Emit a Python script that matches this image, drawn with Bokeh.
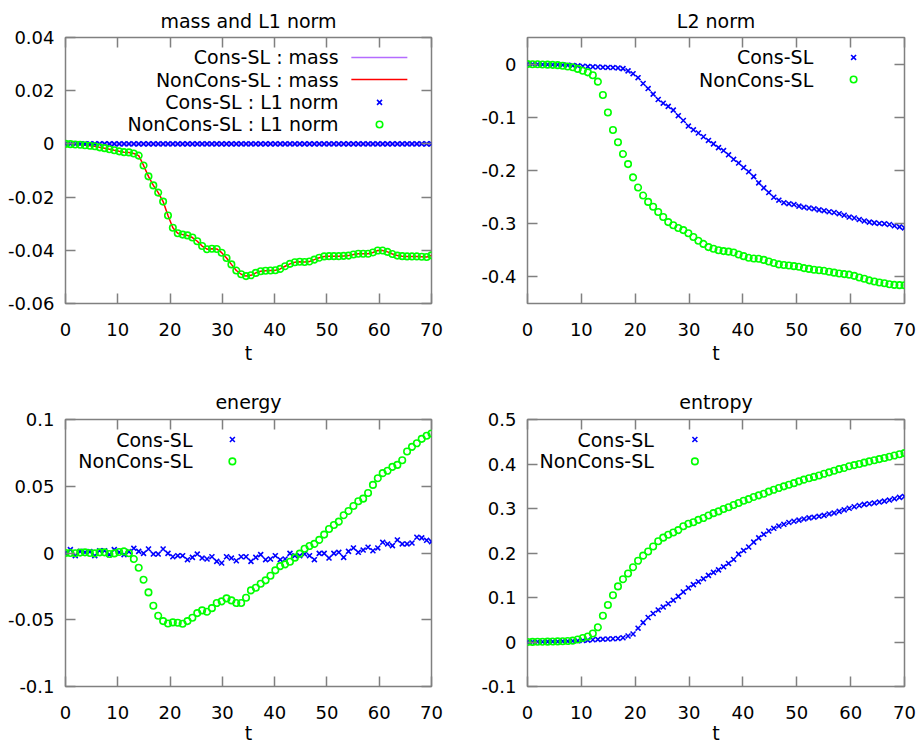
from bokeh.plotting import figure
from bokeh.models import Range1d, FixedTicker, LinearAxis
from bokeh.layouts import column, row
from bokeh.embed import file_html
from bokeh.resources import INLINE
from bokeh.core.properties import value

# ---------------- data ----------------
t = [0, 0.93, 1.87, 2.8, 3.73, 4.67, 5.6, 6.53, 7.47, 8.4,
     9.33, 10.27, 11.2, 12.13, 13.07, 14, 14.93, 15.87, 16.8, 17.73,
     18.67, 19.6, 20.53, 21.47, 22.4, 23.33, 24.27, 25.2, 26.13, 27.07,
     28, 28.93, 29.87, 30.8, 31.73, 32.67, 33.6, 34.53, 35.47, 36.4,
     37.33, 38.27, 39.2, 40.13, 41.07, 42, 42.93, 43.87, 44.8, 45.73,
     46.67, 47.6, 48.53, 49.47, 50.4, 51.33, 52.27, 53.2, 54.13, 55.07,
     56, 56.93, 57.87, 58.8, 59.73, 60.67, 61.6, 62.53, 63.47, 64.4,
     65.33, 66.27, 67.2, 68.13, 69.07, 70]

cons_mass = [0, 0, 0, 0, 0, 0, 0, 0, 0, 0,
             0, 0, 0, 0, 0, 0, 0, 0, 0, 0,
             0, 0, 0, 0, 0, 0, 0, 0, 0, 0,
             0, 0, 0, 0, 0, 0, 0, 0, 0, 0,
             0, 0, 0, 0, 0, 0, 0, 0, 0, 0,
             0, 0, 0, 0, 0, 0, 0, 0, 0, 0,
             0, 0, 0, 0, 0, 0, 0, 0, 0, 0,
             0, 0, 0, 0, 0, 0]

noncons_mass = [0, -0.0001, -0.0002, -0.0003, -0.0005, -0.0007, -0.0009, -0.0013, -0.0016, -0.0020,
                -0.0024, -0.0028, -0.0031, -0.0032, -0.0036, -0.0044, -0.0081, -0.0122, -0.0156, -0.0183,
                -0.0217, -0.0269, -0.0315, -0.0336, -0.0341, -0.0344, -0.0352, -0.0366, -0.0384, -0.0396,
                -0.0394, -0.0395, -0.0409, -0.0429, -0.0453, -0.0476, -0.0490, -0.0497, -0.0494, -0.0485,
                -0.0479, -0.0477, -0.0476, -0.0475, -0.0470, -0.0460, -0.0451, -0.0445, -0.0443, -0.0444,
                -0.0442, -0.0435, -0.0428, -0.0423, -0.0422, -0.0422, -0.0422, -0.0421, -0.0420, -0.0416,
                -0.0413, -0.0413, -0.0413, -0.0408, -0.0401, -0.0401, -0.0406, -0.0414, -0.0420, -0.0422,
                -0.0423, -0.0423, -0.0423, -0.0424, -0.0425, -0.0419]

cons_l1 = [0, 0, 0, 0, 0, 0, 0, 0, 0, 0,
           0, 0, 0, 0, 0, 0, 0, 0, 0, 0,
           0, 0, 0, 0, 0, 0, 0, 0, 0, 0,
           0, 0, 0, 0, 0, 0, 0, 0, 0, 0,
           0, 0, 0, 0, 0, 0, 0, 0, 0, 0,
           0, 0, 0, 0, 0, 0, 0, 0, 0, 0,
           0, 0, 0, 0, 0, 0, 0, 0, 0, 0,
           0, 0, 0, 0, 0, 0]

noncons_l1 = [0, -0.0001, -0.0002, -0.0003, -0.0005, -0.0007, -0.0009, -0.0013, -0.0016, -0.0020,
              -0.0024, -0.0028, -0.0031, -0.0032, -0.0036, -0.0044, -0.0081, -0.0122, -0.0156, -0.0183,
              -0.0217, -0.0269, -0.0315, -0.0336, -0.0341, -0.0344, -0.0352, -0.0366, -0.0384, -0.0396,
              -0.0394, -0.0395, -0.0409, -0.0429, -0.0453, -0.0476, -0.0490, -0.0497, -0.0494, -0.0485,
              -0.0479, -0.0477, -0.0476, -0.0475, -0.0470, -0.0460, -0.0451, -0.0445, -0.0443, -0.0444,
              -0.0442, -0.0435, -0.0428, -0.0423, -0.0422, -0.0422, -0.0422, -0.0421, -0.0420, -0.0416,
              -0.0413, -0.0413, -0.0413, -0.0408, -0.0401, -0.0401, -0.0406, -0.0414, -0.0420, -0.0422,
              -0.0423, -0.0423, -0.0423, -0.0424, -0.0425, -0.0419]

cons_l2 = [0, -0.0002, -0.0004, -0.0006, -0.0009, -0.0011, -0.0013, -0.0016, -0.0021, -0.0027,
           -0.0034, -0.0041, -0.0046, -0.0051, -0.0055, -0.0060, -0.0063, -0.0065, -0.0072, -0.0085,
           -0.0128, -0.0180, -0.0255, -0.0365, -0.0460, -0.0565, -0.0665, -0.0735, -0.0795, -0.0865,
           -0.0970, -0.1060, -0.1165, -0.1235, -0.1295, -0.1365, -0.1435, -0.1500, -0.1570, -0.1625,
           -0.1705, -0.1790, -0.1860, -0.1945, -0.2025, -0.2115, -0.2232, -0.2327, -0.2415, -0.2503,
           -0.2558, -0.2605, -0.2624, -0.2640, -0.2670, -0.2690, -0.2705, -0.2720, -0.2740, -0.2755,
           -0.2775, -0.2790, -0.2812, -0.2840, -0.2875, -0.2893, -0.2922, -0.2948, -0.2970, -0.2985,
           -0.2995, -0.3000, -0.3015, -0.3040, -0.3060, -0.3080]

noncons_l2 = [0, -0.0002, -0.0004, -0.0007, -0.0010, -0.0014, -0.0020, -0.0030, -0.0045, -0.0060,
              -0.0090, -0.0125, -0.0155, -0.0210, -0.0330, -0.0580, -0.0910, -0.1240, -0.1470, -0.1690,
              -0.1880, -0.2130, -0.2320, -0.2470, -0.2590, -0.2680, -0.2780, -0.2875, -0.2970, -0.3030,
              -0.3080, -0.3120, -0.3180, -0.3250, -0.3320, -0.3380, -0.3440, -0.3470, -0.3500, -0.3515,
              -0.3525, -0.3540, -0.3580, -0.3610, -0.3640, -0.3655, -0.3660, -0.3680, -0.3710, -0.3740,
              -0.3765, -0.3775, -0.3785, -0.3798, -0.3810, -0.3835, -0.3850, -0.3865, -0.3875, -0.3885,
              -0.3902, -0.3920, -0.3935, -0.3947, -0.3958, -0.3980, -0.4012, -0.4035, -0.4065, -0.4087,
              -0.4105, -0.4120, -0.4137, -0.4150, -0.4155, -0.4158]

cons_energy = [0, 0.0025, -0.0020, 0.0012, 0.0005, 0.0010, -0.0020, 0.0017, 0.0017, -0.0012,
               0.0025, 0.0005, -0.0012, 0.0010, 0.0035, 0.0012, -0.0003, 0.0030, -0.0008, -0.0008,
               0.0030, -0.0003, -0.0028, -0.0020, -0.0020, -0.0050, -0.0033, -0.0008, -0.0038, -0.0045,
               -0.0028, -0.0063, -0.0075, -0.0028, -0.0038, -0.0058, -0.0028, -0.0028, -0.0063, -0.0033,
               -0.0012, -0.0050, -0.0045, -0.0020, -0.0050, -0.0045, -0.0003, -0.0020, -0.0020, -0.0008,
               -0.0020, -0.0050, -0.0003, -0.0003, -0.0038, -0.0003, 0.0005, -0.0033, 0.0012, 0.0038,
               0.0005, 0.0022, 0.0043, 0.0017, 0.0038, 0.0080, 0.0068, 0.0055, 0.0098, 0.0068,
               0.0068, 0.0075, 0.0118, 0.0113, 0.0095, 0.0085]

noncons_energy = [0, 0, -0.0002, 0.0003, 0.0005, 0, -0.0003, 0.0005, 0.0005, -0.0008,
                  -0.0003, 0.0008, 0.0012, -0.0002, -0.0045, -0.0110, -0.0200, -0.0295, -0.0395, -0.0470,
                  -0.0510, -0.0528, -0.0520, -0.0523, -0.0530, -0.0510, -0.0485, -0.0450, -0.0430, -0.0440,
                  -0.0413, -0.0375, -0.0362, -0.0340, -0.0355, -0.0375, -0.0375, -0.0335, -0.0280, -0.0260,
                  -0.0230, -0.0205, -0.0170, -0.0130, -0.0098, -0.0085, -0.0065, -0.0035, -0.0005, 0.0032,
                  0.0052, 0.0068, 0.0098, 0.0138, 0.0180, 0.0210, 0.0235, 0.0283, 0.0315, 0.0352,
                  0.0388, 0.0407, 0.0450, 0.0510, 0.0560, 0.0598, 0.0616, 0.0645, 0.0660, 0.0695,
                  0.0760, 0.0795, 0.0822, 0.0855, 0.0878, 0.0895]

cons_entropy = [0, 0.0002, 0.0004, 0.0006, 0.0008, 0.0010, 0.0012, 0.0015, 0.0018, 0.0022,
                0.0028, 0.0035, 0.0042, 0.0050, 0.0057, 0.0063, 0.0068, 0.0073, 0.0078, 0.0095,
                0.0135, 0.0180, 0.0310, 0.0435, 0.0550, 0.0640, 0.0720, 0.0785, 0.0860, 0.0940,
                0.1025, 0.1125, 0.1215, 0.1290, 0.1355, 0.1420, 0.1497, 0.1565, 0.1620, 0.1690,
                0.1765, 0.1855, 0.1975, 0.2055, 0.2135, 0.2245, 0.2340, 0.2420, 0.2495, 0.2555,
                0.2605, 0.2645, 0.2685, 0.2713, 0.2738, 0.2765, 0.2790, 0.2805, 0.2825, 0.2845,
                0.2878, 0.2900, 0.2935, 0.2970, 0.3005, 0.3040, 0.3068, 0.3093, 0.3107, 0.3125,
                0.3145, 0.3165, 0.3190, 0.3220, 0.3250, 0.3270]

noncons_entropy = [0, 0.0002, 0.0004, 0.0006, 0.0008, 0.0010, 0.0013, 0.0017, 0.0022, 0.0030,
                   0.0055, 0.0090, 0.0125, 0.0190, 0.0330, 0.0590, 0.0830, 0.1050, 0.1250, 0.1410,
                   0.1540, 0.1680, 0.1825, 0.1940, 0.2035, 0.2145, 0.2265, 0.2345, 0.2410, 0.2462,
                   0.2515, 0.2600, 0.2657, 0.2690, 0.2745, 0.2785, 0.2843, 0.2895, 0.2935, 0.2988,
                   0.3028, 0.3080, 0.3125, 0.3173, 0.3210, 0.3260, 0.3295, 0.3330, 0.3380, 0.3420,
                   0.3460, 0.3498, 0.3534, 0.3570, 0.3610, 0.3648, 0.3680, 0.3710, 0.3740, 0.3780,
                   0.3812, 0.3850, 0.3885, 0.3910, 0.3950, 0.3975, 0.4000, 0.4030, 0.4058, 0.4083,
                   0.4110, 0.4135, 0.4163, 0.4190, 0.4220, 0.4245]

x_ticks = [0, 10, 20, 30, 40, 50, 60, 70]
x_tick_labels = ["0", "10", "20", "30", "40", "50", "60", "70"]
y_ticks_mass = [-0.06, -0.04, -0.02, 0, 0.02, 0.04]
y_labels_mass = ["-0.06", "-0.04", "-0.02", "0", "0.02", "0.04"]
y_ticks_l2 = [-0.4, -0.3, -0.2, -0.1, 0]
y_labels_l2 = ["-0.4", "-0.3", "-0.2", "-0.1", "0"]
y_ticks_energy = [-0.1, -0.05, 0, 0.05, 0.1]
y_labels_energy = ["-0.1", "-0.05", "0", "0.05", "0.1"]
y_ticks_entropy = [-0.1, 0, 0.1, 0.2, 0.3, 0.4, 0.5]
y_labels_entropy = ["-0.1", "0", "0.1", "0.2", "0.3", "0.4", "0.5"]

titles = ["mass and L1 norm", "L2 norm", "energy", "entropy"]
legend_mass = ["Cons-SL : mass", "NonCons-SL : mass", "Cons-SL : L1 norm", "NonCons-SL : L1 norm"]
legend_two = ["Cons-SL", "NonCons-SL"]

# ---------------- style ----------------
FONT = "DejaVu Sans"
FS = "18px"
FS_BIG = "19px"
GRAY = "#808080"
BLUE = "#0000ff"
GREEN = "#00ff00"
RED = "#ff0000"
PURPLE = "#b46cff"


def panel(title, yr, yticks, ylabels, w, h, ml, mr, mt, mb, tick_sd, lab_sd, title_sd):
    p = figure(width=w, height=h, x_range=Range1d(0, 70), y_range=Range1d(*yr),
               output_backend="svg", toolbar_location=None,
               min_border_left=ml, min_border_right=mr, min_border_top=mt, min_border_bottom=mb,
               title=title)
    p.grid.visible = False
    p.background_fill_color = "white"
    p.border_fill_color = "white"
    p.outline_line_color = GRAY
    p.outline_line_width = 1.5
    p.title.text_font = FONT
    p.title.text_font_size = FS_BIG
    p.title.text_font_style = "normal"
    p.title.text_color = "black"
    p.title.align = "center"
    p.title.standoff = title_sd
    xa = p.xaxis[0]
    ya = p.yaxis[0]
    for ax, ticks, labels in ((xa, x_ticks, x_tick_labels), (ya, yticks, ylabels)):
        ax.ticker = FixedTicker(ticks=ticks)
        ax.major_label_overrides = dict(zip(ticks, labels))
        ax.major_label_text_font = FONT
        ax.major_label_text_font_size = FS
        ax.major_label_text_color = "black"
        ax.major_tick_in = 10
        ax.major_tick_out = 0
        ax.major_tick_line_color = GRAY
        ax.major_tick_line_width = 1.5
        ax.minor_tick_line_color = None
        ax.axis_line_color = None
    xa.major_label_standoff = tick_sd
    ya.major_label_standoff = 11
    xa.axis_label = "t"
    xa.axis_label_text_font = FONT
    xa.axis_label_text_font_size = FS_BIG
    xa.axis_label_text_font_style = "normal"
    xa.axis_label_text_color = "black"
    xa.axis_label_standoff = lab_sd
    for side, ticks in (("right", yticks), ("above", x_ticks)):
        ax = LinearAxis(ticker=FixedTicker(ticks=ticks), major_label_text_font_size="0px",
                        major_label_text_color=None,
                        major_label_standoff=0, major_tick_in=10, major_tick_out=0,
                        major_tick_line_color=GRAY, major_tick_line_width=1.5,
                        minor_tick_line_color=None, axis_line_color=None)
        p.add_layout(ax, side)
    return p


def draw_legend(p, labels, kinds, text_fx, sym_fx, line_fx, rows_fy):
    xs, xe = p.x_range.start, p.x_range.end
    ys, ye = p.y_range.start, p.y_range.end
    X = lambda f: xs + f * (xe - xs)
    Y = lambda f: ye - f * (ye - ys)
    p.text(x=[X(text_fx)] * len(labels), y=[Y(f) for f in rows_fy], text=labels,
           text_align="right", text_baseline="middle", text_font=value(FONT),
           text_font_size=value(FS_BIG), text_color="black")
    for (kind, color), fy in zip(kinds, rows_fy):
        if kind == "line":
            p.line(x=[X(line_fx[0]), X(line_fx[1])], y=[Y(fy), Y(fy)], line_color=color, line_width=1.5)
        elif kind == "x":
            p.scatter(x=[X(sym_fx)], y=[Y(fy)], marker="x", size=7, line_color=color, line_width=1.6)
        else:
            p.scatter(x=[X(sym_fx)], y=[Y(fy)], marker="circle", size=6.5, fill_color=None,
                      line_color=color, line_width=1.6)


def cons_pts(p, y):
    p.scatter(x=t, y=y, marker="x", size=7, line_color=BLUE, line_width=1.6)


def noncons_pts(p, y):
    p.scatter(x=t, y=y, marker="circle", size=6.5, fill_color=None, line_color=GREEN, line_width=1.6)


# panel 1: mass and L1 norm
p1 = panel(titles[0], (-0.06, 0.04), y_ticks_mass, y_labels_mass, 460, 380, 65, 29, 37, 77, 19, 3, 12)
p1.line(t, cons_mass, line_color=PURPLE, line_width=1.5)
p1.line(t, noncons_mass, line_color=RED, line_width=1.5)
cons_pts(p1, cons_l1)
noncons_pts(p1, noncons_l1)
draw_legend(p1, legend_mass, [("line", PURPLE), ("line", RED), ("x", BLUE), ("o", GREEN)],
            0.746, 0.858, (0.781, 0.934), [0.075, 0.158, 0.244, 0.327])

# panel 2: L2 norm
p2 = panel(titles[1], (-0.45, 0.05), y_ticks_l2, y_labels_l2, 461, 380, 67, 17, 37, 77, 19, 3, 12)
cons_pts(p2, cons_l2)
noncons_pts(p2, noncons_l2)
draw_legend(p2, legend_two, [("x", BLUE), ("o", GREEN)], 0.758, 0.865, None, [0.075, 0.158])

# panel 3: energy
p3 = panel(titles[2], (-0.1, 0.1), y_ticks_energy, y_labels_energy, 460, 367, 65, 29, 39, 61, 19, 0, 13)
cons_pts(p3, cons_energy)
noncons_pts(p3, noncons_energy)
draw_legend(p3, legend_two, [("x", BLUE), ("o", GREEN)], 0.347, 0.456, None, [0.075, 0.157])

# panel 4: entropy
p4 = panel(titles[3], (-0.1, 0.5), y_ticks_entropy, y_labels_entropy, 461, 367, 67, 17, 39, 61, 19, 0, 13)
cons_pts(p4, cons_entropy)
noncons_pts(p4, noncons_entropy)
draw_legend(p4, legend_two, [("x", BLUE), ("o", GREEN)], 0.335, 0.444, None, [0.075, 0.157])

layout = column(row(p1, p2), row(p3, p4))
open("out.html", "w").write(file_html(layout, INLINE))
